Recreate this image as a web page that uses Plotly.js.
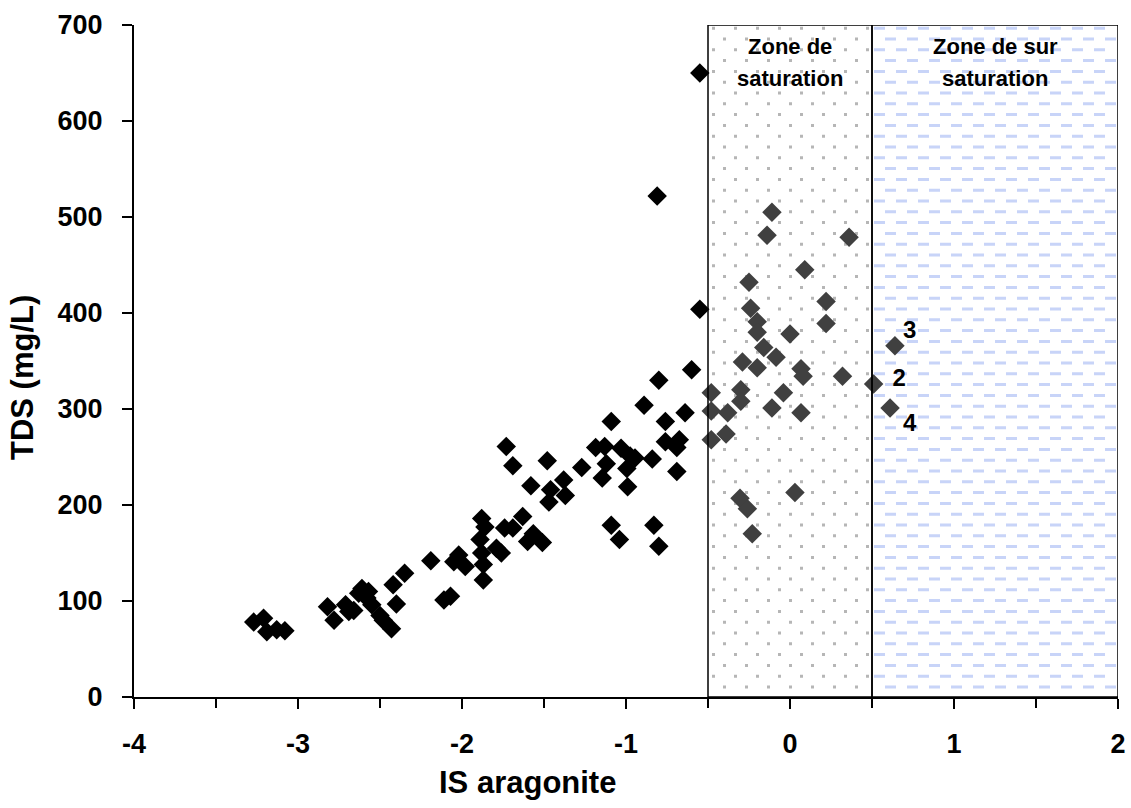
<!DOCTYPE html>
<html>
<head>
<meta charset="utf-8">
<script src="https://cdn.plot.ly/plotly-3.0.1.min.js"></script>
<style>html,body{margin:0;padding:0;background:#fff;}#chart{width:1131px;height:808px;}</style>
</head>
<body>
<div id="chart"></div>
<script>
// Black diamonds (undersaturated samples)
var blackX = [-3.27,-3.21,-3.19,-3.13,-3.08,-2.82,-2.78,-2.71,-2.69,-2.66,-2.63,-2.61,-2.58,-2.57,-2.55,-2.50,-2.48,-2.43,-2.42,-2.40,-2.35,-2.19,-2.11,-2.07,-2.05,-2.02,-1.98,-1.89,-1.88,-1.88,-1.87,-1.87,-1.86,-1.79,-1.76,-1.74,-1.73,-1.69,-1.69,-1.63,-1.60,-1.58,-1.565,-1.51,-1.48,-1.47,-1.46,-1.38,-1.37,-1.27,-1.185,-1.145,-1.13,-1.12,-1.09,-1.09,-1.04,-1.03,-0.995,-0.99,-0.975,-0.945,-0.89,-0.84,-0.83,-0.81,-0.80,-0.80,-0.76,-0.76,-0.69,-0.69,-0.675,-0.64,-0.60,-0.55,-0.55];
var blackY = [78,82,68,70,69,94,80,96,89,90,108,113,103,110,96,85,80,71,117,97,129,142,101,105,141,148,136,164,186,150,138,122,177,155,150,176,261,176,241,188,162,220,170,161,246,203,216,226,210,239,260,228,261,243,287,179,164,259,238,219,251,249,304,248,179,522,330,157,287,266,260,235,268,296,341,404,650];
// Dark grey diamonds (saturation / supersaturation samples)
var grayX = [-0.11,-0.14,0.36,0.09,-0.25,0.22,-0.24,-0.20,0.22,-0.20,0.00,-0.16,-0.085,-0.29,-0.20,0.067,0.08,0.32,-0.48,-0.30,-0.04,-0.30,-0.48,-0.38,-0.11,0.067,-0.39,-0.48,-0.305,-0.26,-0.23,0.03,0.51,0.64,0.61];
var grayY = [505,481,479,445,432,412,405,391,389,380,378,364,354,349,343,342,334,334,317,320,317,308,298,296,301,296,274,268,207,196,170,213,326,366,301];
// Sample labels
var labelText = ['3','2','4'];
var labelX = [0.73,0.665,0.73];
var labelY = [380,330,283];
// Axis ticks and titles
var xTickVals = [-4,-3,-2,-1,0,1,2];
var xTickText = ['-4','-3','-2','-1','0','1','2'];
var xTitle = 'IS aragonite';
var yTitle = 'TDS (mg/L)';
// Zones
var zoneSatX = [-0.5,0.5];
var zoneSurX = [0.5,2];
var zoneY = [0,700];
var zoneLine1 = ['Zone de','Zone de sur'];
var zoneLine2 = ['saturation','saturation'];
var zoneTextX = [0,1.25];

var FONT = 'Liberation Sans, Arial, sans-serif';
var X_RANGE = [-4,2], Y_RANGE = [0,700];
var PLOT_W = 984, PLOT_H = 672;
var pxX = (X_RANGE[1]-X_RANGE[0])/PLOT_W;   // data units per pixel
var pxY = (Y_RANGE[1]-Y_RANGE[0])/PLOT_H;

var traces = [];
traces.push({
  x:blackX, y:blackY, mode:'markers', type:'scatter',
  marker:{symbol:'diamond', size:15, color:'#000000', line:{width:0}},
  showlegend:false
});
traces.push({
  x:grayX, y:grayY, mode:'markers', type:'scatter',
  marker:{symbol:'diamond', size:15, color:'#404040', line:{width:0}},
  showlegend:false
});
traces.push({
  x:labelX, y:labelY, text:labelText, mode:'text', type:'scatter',
  textfont:{family:FONT, size:24, color:'#000', weight:'bold'}, textposition:'middle center',
  hoverinfo:'skip', showlegend:false
});

var shapes = [];
// fill textures drawn as staggered dashed rows
var rowStepPx = 10.8;
var row = 0;
for (var p = 10; p < PLOT_H - 2; p += rowStepPx, row++) {
  var yy = p * pxY;
  var odd = row % 2;
  shapes.push({type:'line', xref:'x', yref:'y',
    x0:zoneSatX[0] + (4 + (odd ? 0 : 11)) * pxX, x1:zoneSatX[1] - 2*pxX, y0:yy, y1:yy,
    line:{color:'#b6b6b6', width:3, dash:'3px,19px'}, layer:'below'});
  shapes.push({type:'line', xref:'x', yref:'y',
    x0:zoneSurX[0] + (2 + (odd ? 0 : 11)) * pxX, x1:zoneSurX[1] - 2*pxX, y0:yy, y1:yy,
    line:{color:'#c8d4f8', width:3, dash:'11px,11px'}, layer:'below'});
}
shapes.push({type:'rect', xref:'x', yref:'y', x0:zoneSatX[0], x1:zoneSatX[1], y0:zoneY[0], y1:zoneY[1], line:{color:'#000', width:1.5}, layer:'above'});
shapes.push({type:'rect', xref:'x', yref:'y', x0:zoneSurX[0], x1:zoneSurX[1], y0:zoneY[0], y1:zoneY[1], line:{color:'#000', width:1.5}, layer:'above'});

var annotations = [];
for (var i = 0; i < zoneTextX.length; i++) {
  annotations.push({x:zoneTextX[i], y:zoneY[1], xref:'x', yref:'y', yanchor:'middle', yshift:-21, text:'<b>'+zoneLine1[i]+'</b>',
    showarrow:false, font:{family:FONT, size:22, color:'#000'}, align:'center'});
  annotations.push({x:zoneTextX[i], y:zoneY[1], xref:'x', yref:'y', yanchor:'middle', yshift:-53, text:'<b>'+zoneLine2[i]+'</b>',
    showarrow:false, font:{family:FONT, size:22, color:'#000'}, align:'center'});
}
// axis titles (placed as in the reference, off-centre)
annotations.push({x:0.3994, y:-0.127, xref:'paper', yref:'paper', xanchor:'center', yanchor:'middle', text:'<b>'+xTitle+'</b>',
  showarrow:false, font:{family:FONT, size:31, color:'#000'}});
annotations.push({x:-0.1138, y:0.4747, xref:'paper', yref:'paper', xanchor:'center', yanchor:'middle', textangle:-90, text:'<b>'+yTitle+'</b>',
  showarrow:false, font:{family:FONT, size:31, color:'#000'}});

var layout = {
  width:1131, height:808,
  margin:{l:134, r:13, t:25, b:111},
  paper_bgcolor:'#fff', plot_bgcolor:'#fff',
  font:{family:FONT, color:'#000'},
  showlegend:false,
  xaxis:{range:X_RANGE, tickmode:'array', tickvals:xTickVals, ticktext:xTickText, ticks:'outside', ticklen:10, tickwidth:1.5, tickcolor:'#000',
    minor:{dtick:0.5, tick0:-4, ticks:'outside', ticklen:9, tickwidth:1.5, tickcolor:'#000', showgrid:false},
    showline:true, linecolor:'#000', linewidth:2, showgrid:false, zeroline:false,
    tickfont:{family:FONT, size:27, color:'#000', weight:'bold'}, ticklabelstandoff:12},
  yaxis:{range:Y_RANGE, tickmode:'linear', tick0:0, dtick:100, ticks:'outside', ticklen:10, tickwidth:1.5, tickcolor:'#000',
    showline:true, linecolor:'#000', linewidth:2, showgrid:false, zeroline:false,
    tickfont:{family:FONT, size:27, color:'#000', weight:'bold'}, ticklabelstandoff:14},
  shapes:shapes,
  annotations:annotations
};
Plotly.newPlot('chart', traces, layout, {staticPlot:true, displayModeBar:false});
</script>
</body>
</html>
